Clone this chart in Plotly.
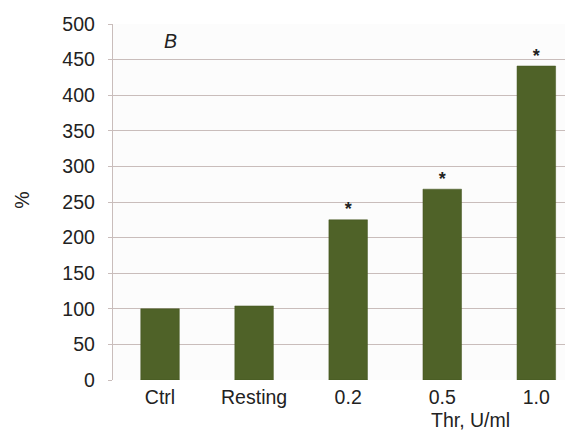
import plotly.graph_objects as go

categories = ["Ctrl", "Resting", "0.2", "0.5", "1.0"]
values = [100, 104, 225, 268, 441]
significant = ["", "", "<b>*</b>", "<b>*</b>", "<b>*</b>"]
y_ticks = [0, 50, 100, 150, 200, 250, 300, 350, 400, 450, 500]

BAR = "#4f6228"
GRID = "#c9bdbb"
TXT = "#222222"
FONT = "Liberation Sans, Arial, sans-serif"

fig = go.Figure()
fig.add_trace(go.Bar(
    x=categories, y=values, width=0.41,
    marker=dict(color=BAR, line=dict(color="#43541f", width=0.5)),
    showlegend=False, hoverinfo="skip",
))
fig.add_trace(go.Scatter(
    x=categories, y=values, mode="text", text=significant,
    textposition="top center",
    textfont=dict(family=FONT, size=18, color=TXT),
    cliponaxis=False, showlegend=False,
))

fig.update_layout(
    width=565, height=423,
    margin=dict(l=105, r=0, t=16, b=51, autoexpand=False),
    paper_bgcolor="white", plot_bgcolor="#fcfcfc",
    font=dict(family=FONT, size=19.5, color=TXT),
    xaxis=dict(
        type="category", range=[-0.5, 4.39],
        showgrid=False, zeroline=False, automargin=False,
        showline=False, ticks="", ticklabelstandoff=3,
        tickfont=dict(size=19.5, color=TXT),
    ),
    yaxis=dict(
        range=[0, 500], tickvals=y_ticks, automargin=False,
        showgrid=True, gridcolor=GRID, gridwidth=1.4,
        zeroline=False, showline=True, linecolor=GRID, linewidth=1.4,
        ticks="outside", ticklen=4, tickcolor=GRID, tickwidth=1.4,
        ticklabelstandoff=9,
        tickfont=dict(size=19.5, color=TXT),
    ),
    annotations=[
        dict(text="<i>B</i>", x=0.124, xref="paper", y=476, yref="y",
             xanchor="center", showarrow=False,
             font=dict(size=19.5, color=TXT)),
        dict(text="%", x=-0.198, xref="paper", y=0.506, yref="paper",
             xanchor="center", yanchor="middle",
             textangle=-90, showarrow=False,
             font=dict(size=19.5, color=TXT)),
        dict(text="Thr, U/ml", x=3.3, xref="x", y=-0.112, yref="paper",
             xanchor="center", yanchor="middle",
             showarrow=False, font=dict(size=19.5, color=TXT)),
    ],
)

fig.write_html("out.html")
